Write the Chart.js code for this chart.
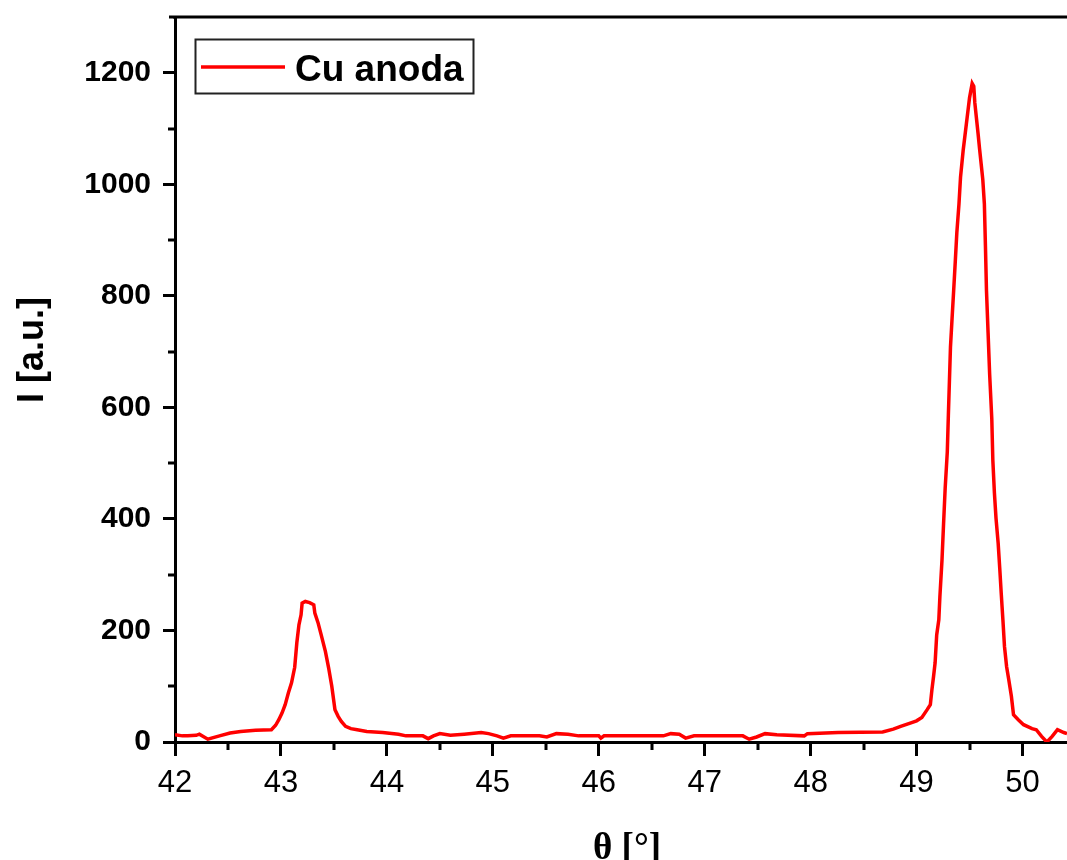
<!DOCTYPE html>
<html>
<head>
<meta charset="utf-8">
<title>Cu anoda</title>
<script src="https://cdn.jsdelivr.net/npm/chart.js@4.4.1/dist/chart.umd.min.js"></script>
<style>
  html, body { margin: 0; padding: 0; background: #fff; overflow: hidden; }
</style>
</head>
<body>
<canvas id="xrd" width="1067" height="860"></canvas>
<script>
// diffraction scan, angle in degrees
const theta = [
  42.00, 42.07, 42.12, 42.20, 42.23, 42.31, 42.42, 42.52, 42.62, 42.76,
  42.91, 42.95, 42.98, 43.01, 43.04, 43.07, 43.10, 43.13, 43.15, 43.17,
  43.19, 43.20, 43.23, 43.27, 43.31, 43.32, 43.35, 43.38, 43.42, 43.45,
  43.48, 43.51, 43.54, 43.57, 43.61, 43.66, 43.72, 43.81, 43.96, 44.11,
  44.18, 44.34, 44.39, 44.44, 44.50, 44.60, 44.73, 44.89, 44.96, 45.04,
  45.10, 45.17, 45.44, 45.51, 45.60, 45.71, 45.81, 46.00, 46.02, 46.05,
  46.61, 46.68, 46.76, 46.82, 46.90, 47.36, 47.42, 47.49, 47.57, 47.68,
  47.94, 47.97, 48.26, 48.68, 48.78, 48.85, 48.94, 49.00, 49.05, 49.10,
  49.13, 49.145, 49.16, 49.175, 49.19, 49.21, 49.22, 49.24, 49.255, 49.27,
  49.29, 49.30, 49.32, 49.335, 49.35, 49.365, 49.38, 49.40, 49.415, 49.44,
  49.47, 49.50, 49.525, 49.54, 49.55, 49.565, 49.58, 49.595, 49.61, 49.625,
  49.64, 49.65, 49.66, 49.675, 49.69, 49.71, 49.72, 49.735, 49.75, 49.77,
  49.785, 49.80, 49.815, 49.83, 49.85, 49.87, 49.895, 49.915, 49.96, 50.01,
  50.09, 50.13, 50.18, 50.23, 50.28, 50.33, 50.39, 50.42
];
const intensity = [
  13, 11, 11, 12, 14, 5, 11, 16, 19, 21,
  22, 30, 40, 52, 67, 88, 106, 134, 178, 210,
  228, 249, 252, 250, 246, 231, 214, 192, 162, 133,
  100, 58, 46, 37, 28, 24, 22, 19, 17, 14,
  11, 11, 6, 11, 15, 12, 14, 17, 15, 11,
  7, 11, 11, 9, 15, 14, 11, 11, 7, 11,
  11, 15, 14, 7, 11, 11, 5, 9, 15, 13,
  11, 15, 17, 18, 23, 28, 34, 38, 44, 58,
  67, 94, 117, 142, 192, 219, 260, 326, 392, 455,
  520, 585, 708, 759, 809, 860, 913, 964, 1013, 1061,
  1108, 1155, 1181, 1176, 1146, 1119, 1092, 1063, 1036, 1009,
  965, 890, 809, 734, 659, 580, 505, 446, 401, 357,
  312, 264, 219, 171, 135, 112, 82, 49, 40, 31,
  24, 22, 10, 0, 10, 22, 17, 15
];

const xTicks = [42, 43, 44, 45, 46, 47, 48, 49, 50];
const yTicks = [0, 200, 400, 600, 800, 1000, 1200];
const xMinorTicks = [42.5, 43.5, 44.5, 45.5, 46.5, 47.5, 48.5, 49.5];
const yMinorTicks = [100, 300, 500, 700, 900, 1100];

const seriesLabel = 'Cu anoda';
const xTitle = 'θ [°]';
const yTitle = 'I [a.u.]';

const points = theta.map((t, i) => ({ x: t, y: intensity[i] }));

// top frame line, minor ticks, axis titles and the boxed legend
const decorations = {
  id: 'decorations',
  afterDraw(chart) {
    const ctx = chart.ctx;
    const area = chart.chartArea;
    const xs = chart.scales.x;
    const ys = chart.scales.y;
    ctx.save();
    ctx.strokeStyle = '#000';
    ctx.lineWidth = 3;
    ctx.beginPath();
    ctx.moveTo(area.left - 6, area.top);
    ctx.lineTo(area.right, area.top);
    ctx.moveTo(area.left, area.top);
    ctx.lineTo(area.left, area.top + 2);
    xMinorTicks.forEach(v => {
      const px = Math.round(xs.getPixelForValue(v));
      ctx.moveTo(px, area.bottom);
      ctx.lineTo(px, area.bottom + 8);
    });
    yMinorTicks.forEach(v => {
      const py = Math.round(ys.getPixelForValue(v));
      ctx.moveTo(area.left, py);
      ctx.lineTo(area.left - 7, py);
    });
    ctx.stroke();

    ctx.fillStyle = '#000';
    ctx.font = 'bold 37px "Liberation Serif"';
    ctx.textAlign = 'center';
    ctx.textBaseline = 'alphabetic';
    ctx.fillText(xTitle, 627, 859);

    ctx.save();
    ctx.translate(33, 350);
    ctx.rotate(-Math.PI / 2);
    ctx.font = 'bold 36px "Liberation Sans"';
    ctx.textBaseline = 'middle';
    ctx.fillText(yTitle, 0, 0);
    ctx.restore();

    const ds = chart.data.datasets[0];
    ctx.lineWidth = 2;
    ctx.strokeStyle = '#222';
    ctx.strokeRect(195.5, 39.5, 278, 54);
    ctx.strokeStyle = ds.borderColor;
    ctx.lineWidth = 3.5;
    ctx.beginPath();
    ctx.moveTo(201, 67);
    ctx.lineTo(285, 67);
    ctx.stroke();
    ctx.font = 'bold 37px "Liberation Sans"';
    ctx.textAlign = 'left';
    ctx.fillText(ds.label, 295, 81);
    ctx.restore();
  }
};

const tickGrid = {
  display: true,
  drawOnChartArea: false,
  drawTicks: true,
  tickWidth: 3,
  tickColor: '#000'
};

new Chart(document.getElementById('xrd'), {
  type: 'line',
  data: {
    datasets: [{
      label: seriesLabel,
      data: points,
      borderColor: '#ff0000',
      borderWidth: 3.5,
      pointRadius: 0,
      tension: 0,
      fill: false
    }]
  },
  options: {
    responsive: false,
    animation: false,
    layout: { padding: { top: 17, right: 0, left: 0, bottom: 0 } },
    plugins: {
      legend: { display: false },
      tooltip: { enabled: false }
    },
    scales: {
      x: {
        type: 'linear',
        min: 42,
        max: 50.42,
        afterBuildTicks: scale => { scale.ticks = xTicks.map(v => ({ value: v })); },
        afterFit: scale => { scale.height = 118; },
        grid: Object.assign({}, tickGrid, { tickLength: 14 }),
        border: { display: true, color: '#000', width: 3 },
        ticks: {
          color: '#000',
          padding: 9,
          maxRotation: 0,
          callback: v => String(v),
          font: { family: 'Liberation Sans', size: 31 }
        }
      },
      y: {
        type: 'linear',
        min: 0,
        max: 1300,
        afterBuildTicks: scale => { scale.ticks = yTicks.map(v => ({ value: v })); },
        afterFit: scale => {
          scale.width = 175;
          scale.paddingTop = 0;
          scale.paddingBottom = 0;
        },
        grid: Object.assign({}, tickGrid, { tickLength: 12 }),
        border: { display: true, color: '#000', width: 3 },
        ticks: {
          color: '#000',
          padding: 12,
          callback: v => String(v),
          font: { family: 'Liberation Sans', size: 30, weight: 'bold' }
        }
      }
    }
  },
  plugins: [decorations]
});
</script>
</body>
</html>
